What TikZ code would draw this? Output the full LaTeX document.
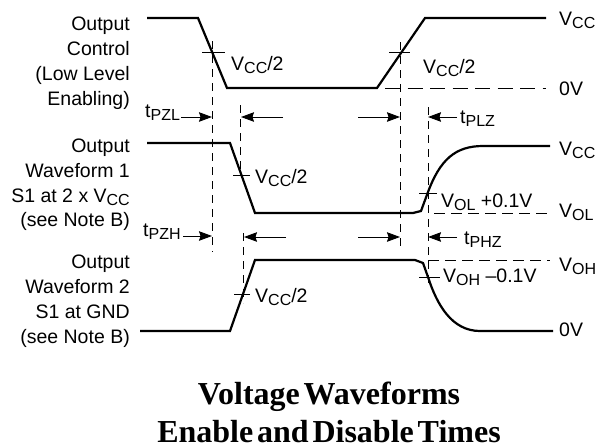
\documentclass[tikz,border=0pt]{standalone}
\usepackage{fontspec}
\setmainfont{Liberation Sans}
\newfontfamily\titlefont{Liberation Serif}[BoldFont={Liberation Serif Bold}]
\usetikzlibrary{arrows.meta}
\newcommand{\lowtxt}[1]{\raisebox{-0.2em}{\fontsize{16}{16}\selectfont #1}}
\tikzset{
  wave/.style={line width=2.2pt},
  guide/.style={line width=0.9pt,dash pattern=on 8pt off 6pt},
  zeroline/.style={line width=0.9pt,dash pattern=on 15pt off 7.5pt},
  levelline/.style={line width=0.9pt,dash pattern=on 11pt off 6pt},
  tickmark/.style={line width=0.9pt},
  timearrow/.style={line width=0.9pt,-{Stealth[length=13pt,width=9.5pt,inset=1.5pt]}},
  lbl/.style={inner sep=0pt,anchor=base east,font=\fontsize{19.5}{24}\selectfont},
  val/.style={inner sep=0pt,anchor=base west,font=\fontsize{19.5}{24}\selectfont},
  ttl/.style={inner sep=0pt,anchor=base,font=\titlefont\bfseries\fontsize{32}{36}\selectfont}
}
\begin{document}
\begin{tikzpicture}[x=1pt,y=-1pt]
\useasboundingbox (0,0) rectangle (603,445);
% waveforms
\draw[wave] (147,18)--(198,18)--(227,88)--(377,88)--(425,18)--(546,18);
\draw[wave] (147,143)--(230,143)--(255,213)--(413,213)--(421,211)--(428,192) .. controls (440,160) and (455,146) .. (483,146)--(550,146);
\draw[wave] (140,331)--(230,331)--(255,260)--(415,260)--(423,263)--(428,277) .. controls (437,305) and (452,331) .. (480,331)--(553,331);
% guides
\draw[guide] (212.5,41)--(212.5,252);
\draw[guide] (400,42)--(400,250);
\draw[guide] (240.5,105)--(240.5,175);
\draw[guide] (243,233)--(243,303);
\draw[guide] (428,107)--(428,287);
\draw[zeroline] (385,88)--(546,88);
\draw[levelline] (434,213)--(550,213);
\draw[levelline] (428,260)--(550,260);
% ticks
\draw[tickmark] (202,52)--(225,52);
\draw[tickmark] (389,52)--(410,52);
\draw[tickmark] (233,175)--(250,175);
\draw[tickmark] (234,294)--(250,294);
\draw[tickmark] (419,193)--(437,193);
\draw[tickmark] (419,277)--(440,277);
% timing arrows
\draw[timearrow] (181,117)--(212,117);
\draw[timearrow] (283,117)--(241,117);
\draw[timearrow] (358,117)--(400,117);
\draw[timearrow] (457,117)--(428,117);
\draw[timearrow] (183,236)--(212,236);
\draw[timearrow] (286,237)--(244,237);
\draw[timearrow] (358,237)--(400,237);
\draw[timearrow] (457,237)--(428,237);
% left labels
\node[lbl] (ctrlA) at (130,30) {Output};
\node[lbl] (ctrlB) at (130,55) {Control};
\node[lbl] (ctrlC) at (130,80) {(Low Level};
\node[lbl] (ctrlD) at (130,105) {Enabling)};
\node[lbl] (waveA) at (130,152) {Output};
\node[lbl] (waveB) at (130,177) {Waveform 1};
\node[lbl] (waveC) at (130,202) {S1 at 2 x V\lowtxt{CC}};
\node[lbl] (waveD) at (130,226) {(see Note B)};
\node[lbl] (waveE) at (130,268) {Output};
\node[lbl] (waveF) at (130,293) {Waveform 2};
\node[lbl] (waveG) at (130,318) {S1 at GND};
\node[lbl] (waveH) at (130,343) {(see Note B)};
% time labels
\node[val] (tpzl) at (145,117) {t\lowtxt{PZL}};
\node[val] (tpzh) at (143,236) {t\lowtxt{PZH}};
\node[val] (tplz) at (460,123) {t\lowtxt{PLZ}};
\node[val] (tphz) at (464,244) {t\lowtxt{PHZ}};
% level labels
\node[val] (halfA) at (231,70) {V\lowtxt{CC}/2};
\node[val] (halfB) at (423,73) {V\lowtxt{CC}/2};
\node[val] (halfC) at (255,183) {V\lowtxt{CC}/2};
\node[val] (halfD) at (255,302) {V\lowtxt{CC}/2};
\node[val] (volp) at (441,207) {V\lowtxt{OL} +0.1V};
\node[val] (vohm) at (443,282) {V\lowtxt{OH} --0.1V};
\node[val] (vccA) at (559,25) {V\lowtxt{CC}};
\node[val] (zeroA) at (559,95) {0V};
\node[val] (vccB) at (559,155) {V\lowtxt{CC}};
\node[val] (vol) at (559,217) {V\lowtxt{OL}};
\node[val] (voh) at (559,271) {V\lowtxt{OH}};
\node[val] (zeroB) at (559,336) {0V};
% title
\node[ttl] (titleA) at (329,404) {Voltage\hspace{0.12em}Waveforms};
\node[ttl] (titleB) at (329,442) {Enable\hspace{0.12em}and\hspace{0.12em}Disable\hspace{0.12em}Times};
\end{tikzpicture}
\end{document}
